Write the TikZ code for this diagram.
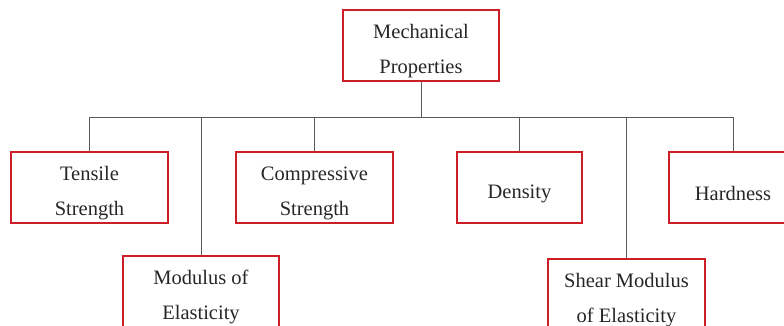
\documentclass[tikz,border=0pt]{standalone}
\usepackage{fontspec}
\setmainfont{Liberation Serif}
\definecolor{boxred}{RGB}{205,30,40}
\definecolor{linegray}{RGB}{90,90,90}
\begin{document}
\begin{tikzpicture}[x=1pt,y=-1pt,
  box/.style={draw=boxred, line width=1.3pt, minimum height=71pt, align=center,
    inner sep=0pt, font=\fontsize{20.5}{35}\selectfont, text=black!85,
    text height=60pt},
  onebox/.style={box, text height=26pt},
  conn/.style={draw=linegray, line width=0.8pt}]
\useasboundingbox (0,0) rectangle (784,326);
\clip (0,0) rectangle (784,326);
\node[box, minimum width=156pt] (mech) at (421,45.5) {Mechanical\\Properties};
\node[box, minimum width=157pt] (tens) at (89.5,187.5) {Tensile\\Strength};
\node[box, minimum width=156pt] (mod) at (201,291.5) {Modulus of\\Elasticity};
\node[box, minimum width=157pt] (comp) at (314.5,187.5) {Compressive\\Strength};
\node[onebox, minimum width=125pt] (dens) at (519.5,187.5) {Density};
\node[box, minimum width=157pt] (shear) at (626.5,294.5) {Shear Modulus\\of Elasticity};
\node[onebox, minimum width=128pt] (hard) at (733,187.5) {Hardness};
\coordinate (busL) at (89.5,117);
\coordinate (busR) at (733,117);
\draw[conn] (mech.south) -- (mech.south |- busL);
\draw[conn] (busL) -- (busR);
\draw[conn] (tens.north) -- (busL);
\draw[conn] (mod.north) -- (mod.north |- busL);
\draw[conn] (comp.north) -- (comp.north |- busL);
\draw[conn] (dens.north) -- (dens.north |- busL);
\draw[conn] (shear.north) -- (shear.north |- busL);
\draw[conn] (hard.north) -- (busR);
\end{tikzpicture}
\end{document}
